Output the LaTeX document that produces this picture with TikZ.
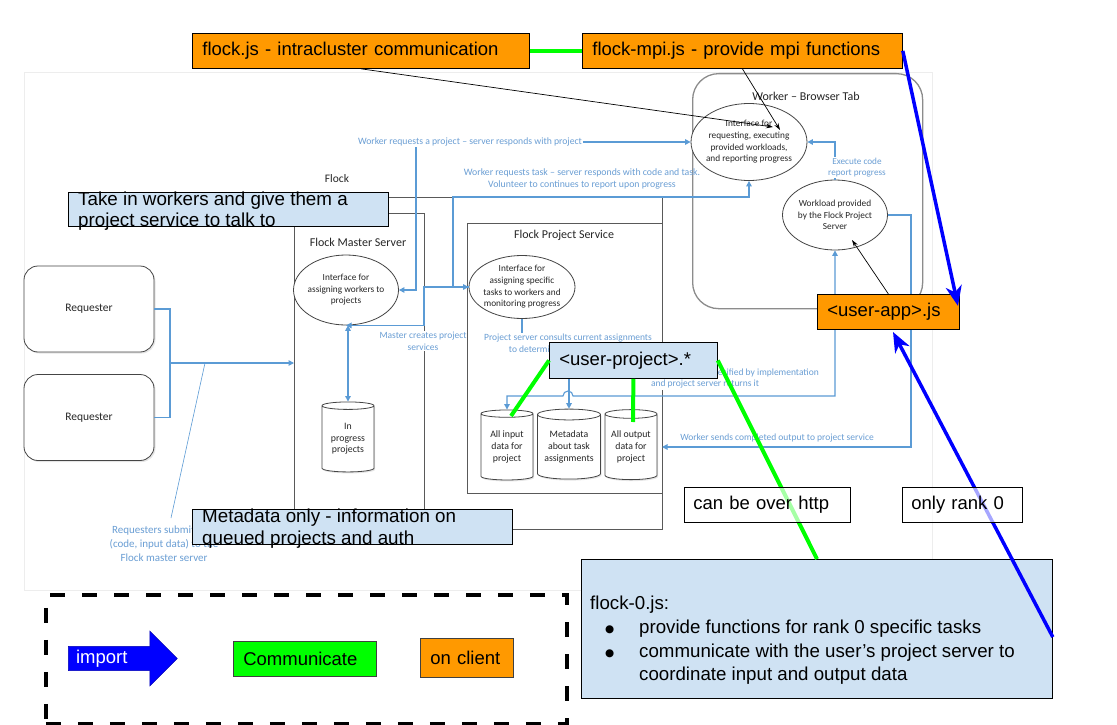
\documentclass[tikz,border=0pt]{standalone}
\usepackage{fontspec}
\setmainfont{Liberation Sans}
\newfontfamily\calfont{Carlito}
\newfontfamily\djvfont{DejaVu Sans}
\usetikzlibrary{shapes.geometric,shapes.arrows,arrows.meta,shadows}
\definecolor{gorange}{HTML}{FF9900}
\definecolor{glblue}{HTML}{CFE2F3}
\definecolor{ggreen}{HTML}{00FF00}
\definecolor{gblue}{HTML}{0000FF}
\definecolor{vblue}{HTML}{5B9BD5}
\definecolor{vtext}{HTML}{6A9ED4}
\definecolor{vgray}{HTML}{595959}
\definecolor{vdark}{HTML}{454545}
\definecolor{vtxtdark}{HTML}{262626}
\definecolor{wgray}{HTML}{8C8C8C}
\newcommand{\gbul}{\raisebox{0.5pt}{\djvfont\fontsize{10.5}{12}\selectfont ●}}
\tikzset{
 ovl/.style={draw=black, line width=0.8pt, anchor=north west, inner xsep=10pt, inner ysep=0pt, align=left, font=\fontsize{18.5}{22}\selectfont},
 orng/.style={ovl, fill=gorange},
 lbx/.style={ovl, fill=glblue},
 ovltext/.style={anchor=north west, inner sep=0pt, align=left, font=\fontsize{18.8}{21.5}\selectfont},
 vrect/.style={draw=vgray, line width=0.9pt, anchor=north west, inner sep=0pt, outer sep=0pt},
 vell/.style={ellipse, draw=vdark, fill=white, line width=0.8pt, inner sep=-12pt, align=center, text=vtxtdark, font=\calfont\fontsize{9.3}{11.6}\selectfont},
 vcyl/.style={cylinder, shape border rotate=90, aspect=0.22, draw=vdark, fill=white, line width=0.8pt, inner sep=0pt, align=center, minimum height=70pt, text=vtxtdark, font=\calfont\fontsize{9.8}{11.6}\selectfont, drop shadow={shadow xshift=1pt, shadow yshift=-1.5pt, opacity=0.2}},
 req/.style={draw=vdark, fill=white, line width=0.8pt, rounded corners=14pt, minimum width=130pt, minimum height=86pt, text=vtxtdark, font=\calfont\fontsize{11.5}{14}\selectfont, drop shadow={shadow xshift=1.5pt, shadow yshift=-1.5pt, opacity=0.2}},
 vtitle/.style={inner sep=0pt, text=vtxtdark, font=\calfont\fontsize{12}{14}\selectfont},
 vlbl/.style={inner sep=1pt, align=center, text=vtext, font=\calfont\fontsize{9.5}{11.8}\selectfont},
 bl/.style={draw=vblue, line width=1.1pt, >={Triangle[length=5.5pt,width=5.5pt]}},
 thinar/.style={draw=black, line width=0.7pt, -{Stealth[length=7pt,width=4.5pt]}},
 imp/.style={draw=gblue, line width=3.5pt, -{Stealth[length=20pt,width=16pt,inset=6pt]}},
 grn/.style={draw=ggreen, line width=4pt},
 note/.style={draw=black, line width=0.8pt, anchor=north west, inner xsep=9pt, inner ysep=0pt, align=left, fill=white, fill opacity=0.65, text opacity=1, font=\fontsize{18.5}{22}\selectfont},
 legbox/.style={draw=black!75, line width=0.6pt, anchor=north west, inner xsep=10pt, inner ysep=0pt, align=left, font=\fontsize{18.5}{22}\selectfont},
}
\begin{document}
\begin{tikzpicture}[x=1pt,y=-1pt]
\useasboundingbox (0,0) rectangle (1117,725);
\fill[white] (0,0) rectangle (1117,725);
\node[draw=black!7, line width=0.8pt, anchor=north west, minimum width=908pt, minimum height=518pt, inner sep=0pt] (bgimg) at (24,72) {};

% ---------- diagram boxes ----------
\node[vrect, minimum width=368pt, minimum height=332pt] (flock) at (294,197) {};
\node[vrect, minimum width=130pt, minimum height=325pt] (mbox) at (294,213) {};
\node[vrect, minimum width=195pt, minimum height=270pt] (pbox) at (467,223) {};
\node[draw=wgray, line width=1.3pt, rounded corners=26pt, anchor=north west, minimum width=230pt, minimum height=235pt, inner sep=0pt] (wtab) at (692,73) {};

\node[vtitle, font=\calfont\fontsize{11.5}{14}\selectfont] (tflock) at (337,179) {Flock};
\node[vtitle] (tmaster) at (358,242) {Flock Master Server};
\node[vtitle] (tproj) at (564,235) {Flock Project Service};
\node[vtitle] (twtab) at (806,96) {Worker – Browser Tab};

\node[vell, minimum width=105pt, minimum height=70pt] (me) at (346,290) {Interface for\\assigning workers to\\projects};
\node[vell, minimum width=106pt, minimum height=63pt] (pe) at (522,287) {Interface for\\assigning specific\\tasks to workers and\\monitoring progress};
\node[vell, minimum width=116pt, minimum height=77pt] (we) at (749,142) {Interface for\\requesting, executing\\provided workloads,\\and reporting progress};
\node[vell, minimum width=105pt, minimum height=70pt] (wl) at (835,215) {Workload provided\\by the Flock Project\\Server};

\node[vcyl, minimum width=52pt] (inprog) at (348,439) {In\\progress\\projects};
\node[vcyl, minimum width=52pt] (inp) at (507,447) {All input\\data for\\project};
\node[vcyl, minimum width=63pt] (meta) at (569,447) {Metadata\\about task\\assignments};
\node[vcyl, minimum width=52pt] (outp) at (631,447) {All output\\data for\\project};

\node[req] (r1) at (89,309) {Requester};
\node[req] (r2) at (89,417.5) {Requester};

% ---------- blue connectors ----------
\coordinate (rj) at (170,363);
\draw[bl] (r1.east) -| (rj);
\draw[bl] (r2.east) -| (rj);
\draw[bl,->] (rj) -- (rj -| mbox.west);
\coordinate (rcall) at (205,363);
\coordinate (rcallend) at (171,518);
\draw[vblue, line width=0.6pt] (rcall) -- (rcallend);

\draw[bl,<-] (me.south) -- (me.south -| mbox.east) |- (pe.west);
\draw[bl,<->] (we.south) |- (453,197) |- (pe.west);
\draw[bl,<->] (me.east) -- (416,290) |- (we.west);
\draw[bl,->] (wl.north) |- (we.east);
\draw[bl,->] (wl.east) -- (911,215) |- (outp.east -| pbox.east);
\draw[bl,<->] (wl.south) |- (573,396) arc[start angle=0, end angle=-180, radius=5] -- (inp.north |- 0,396) -- (inp.north);
\draw[bl,<->, line width=1.6pt] (inprog.north |- me.south) -- (inprog.north);

\node[vlbl] (consult) at (568,343) {Project server consults current assignments\\to determine next task to send};
\draw[bl] (pe.south) -- (pe.south |- consult.north);
\draw[bl,->] (consult.south -| meta.north) -- (meta.north);

\node[vlbl, fill=white, font=\calfont\fontsize{9.7}{11.8}\selectfont] (lblwp) at (470,142) {Worker requests a project – server responds with project};
\node[vlbl, font=\calfont\fontsize{9.8}{11.8}\selectfont] (lblvol) at (582,179) {Worker requests task – server responds with code and task.\\Volunteer to continues to report upon progress};
\node[vlbl, fill=white] (lblmc) at (423,341) {Master creates project\\services};
\node[vlbl, fill=white] (lblspec) at (705,378.5) {Worker requests input data as specified by implementation\\and project server returns it};
\node[vlbl, fill=white, font=\calfont\fontsize{9.2}{11.5}\selectfont] (lblexec) at (857,167.5) {Execute code\\report progress};
\node[vlbl] (lblout) at (777,438) {Worker sends completed output to project service};
\node[vlbl, font=\calfont\fontsize{11}{14}\selectfont] (reqlbl) at (164,544) {Requesters submit jobs\\(code, input data) to the\\Flock master server};

% ---------- overlay boxes ----------
\node[orng, text width=317pt, minimum height=35pt] (fjs) at (192,33) {flock.js - intracluster communication};
\node[orng, text width=300pt, minimum height=35pt] (fmpi) at (582,33) {flock-mpi.js - provide mpi functions};
\node[lbx, minimum width=320pt, minimum height=34pt] (takein) at (68,192) {};
\node[ovltext] (takeintxt) at (78,191.5) {Take in workers and give them a\\project service to talk to};
\node[lbx, minimum width=320pt, minimum height=35pt] (metab) at (192,509) {};
\node[ovltext] (metatxt) at (202,509) {Metadata only - information on\\queued projects and auth};
\node[lbx, text width=148pt, minimum height=36pt] (uproj) at (549,342) {<user-project>.*};
\node[orng, text width=122pt, minimum height=35pt] (uapp) at (817,294) {<user-app>.js};
\node[lbx, minimum width=471pt, minimum height=139pt] (flock0) at (581,559) {};
\node[anchor=north west, inner sep=0pt, align=left, font=\fontsize{18.7}{23.7}\selectfont] (f0txt) at (590,596)
 {flock-0.js:\\
  \makebox[49pt][l]{\hspace*{15pt}\gbul}provide functions for rank 0 specific tasks\\
  \makebox[49pt][l]{\hspace*{15pt}\gbul}communicate with the user’s project server to\\
  \hspace*{49pt}coordinate input and output data};

% ---------- thin black arrows ----------
\coordinate (weT1) at (773,127);
\coordinate (weT2) at (780,130);
\coordinate (wlT) at (852,240);
\draw[thinar] (fjs.south) -- (weT1);
\draw[thinar] (fmpi.south) -- (weT2);
\draw[thinar] (uapp.north) -- (wlT);

% ---------- green communication lines ----------
\coordinate (inpT) at (511,416);
\coordinate (outT) at (633,422);
\draw[grn] (fjs.east) -- (fmpi.west);
\draw[grn] (uproj.west) -- (inpT);
\draw[grn] (uproj.south) -- (outT);
\draw[grn] (uproj.east) -- (flock0.north -| 817,0);

% ---------- blue import arrows ----------
\coordinate (uaR) at (958,306);
\coordinate (uaB) at (893,332);
\draw[imp] (fmpi.east) -- (uaR);
\draw[imp] (flock0.east |- 0,637) -- (uaB);

% ---------- notes ----------
\node[note, text width=148pt, minimum height=35pt] (http) at (684,487) {can be over http};
\node[note, text width=102pt, minimum height=35pt] (rank0) at (902,487) {only rank 0};

% ---------- legend ----------
\node[draw=black, line width=3.5pt, dash pattern=on 15pt off 17pt, anchor=north west, minimum width=521pt, minimum height=129pt, inner sep=0pt] (legend) at (44,593) {};
\node[single arrow, fill=gblue, draw=gblue!70!black, line width=0.5pt, single arrow head extend=14pt, single arrow tip angle=90, minimum height=109pt, minimum width=55pt, inner sep=2pt, anchor=west, text=white, font=\fontsize{18.5}{22}\selectfont] (limp) at (68,658.5) {import\hspace*{30pt}};
\node[legbox, fill=ggreen, text width=123pt, minimum height=35pt] (lcomm) at (233,641) {Communicate};
\node[legbox, fill=gorange, text width=73pt, minimum height=39pt] (lcli) at (420,638) {on client};
\end{tikzpicture}
\end{document}
